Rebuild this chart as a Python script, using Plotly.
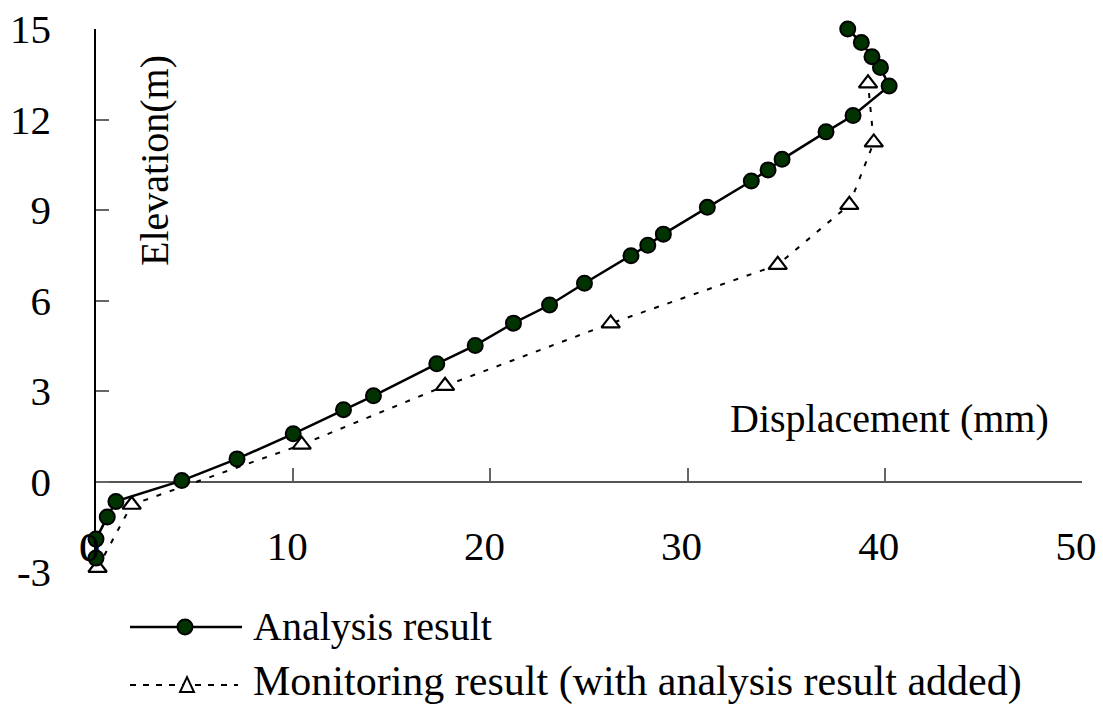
import plotly.graph_objects as go

# Analysis result: horizontal displacement (mm) vs elevation (m)
analysis_disp = [0.0, 0.0, 0.57, 1.01, 4.35, 7.15, 10.0, 12.55, 14.07, 17.28, 19.23,
                 21.17, 23.0, 24.77, 27.13, 27.98, 28.77, 31.0, 33.23, 34.08, 34.79,
                 37.02, 38.39, 40.22, 39.78, 39.35, 38.81, 38.12]
analysis_elev = [-2.54, -1.91, -1.18, -0.66, 0.03, 0.75, 1.58, 2.38, 2.84, 3.9, 4.51,
                 5.25, 5.85, 6.57, 7.48, 7.83, 8.2, 9.09, 9.96, 10.33, 10.68,
                 11.59, 12.13, 13.11, 13.72, 14.08, 14.55, 15.0]

# Monitoring result (with analysis result added)
monitor_disp = [0.08, 1.81, 10.43, 17.7, 26.1, 34.57, 38.2, 39.44, 39.15]
monitor_elev = [-2.86, -0.77, 1.22, 3.17, 5.24, 7.18, 9.17, 11.24, 13.2]

x_ticks = [0, 10, 20, 30, 40, 50]
y_ticks = [-3, 0, 3, 6, 9, 12, 15]

series_names = ["Analysis result", "Monitoring result (with analysis result added)"]

FONT = "Liberation Serif, Times New Roman, serif"
W, H = 1103, 706
ML, MR, MT, MB = 96, 21, 29, 134
PW, PH = W - ML - MR, H - MT - MB


def px(xp):
    return (xp - ML) / PW


def py(yp):
    return (H - MB - yp) / PH


fig = go.Figure()

fig.add_trace(go.Scatter(
    x=monitor_disp, y=monitor_elev, mode="lines+markers", name=series_names[1],
    line=dict(color="black", width=2, dash="5px,9px"),
    marker=dict(symbol="triangle-up", size=16, color="white",
                line=dict(color="black", width=2.2)),
    cliponaxis=False, showlegend=False,
))
fig.add_trace(go.Scatter(
    x=analysis_disp, y=analysis_elev, mode="lines+markers", name=series_names[0],
    line=dict(color="black", width=2.5),
    marker=dict(symbol="circle", size=15, color="#003300",
                line=dict(color="black", width=2)),
    cliponaxis=False, showlegend=False,
))

y_min, y_max = -3, 15
x_axis_pos = (0 - y_min) / (y_max - y_min)

fig.update_xaxes(
    range=[0, 50], tickvals=x_ticks, ticktext=[str(v) for v in x_ticks],
    anchor="free", position=x_axis_pos,
    showline=True, linecolor="#555555", linewidth=1.5,
    ticks="inside", ticklen=13, tickcolor="#666666", tickwidth=1.5,
    ticklabelstandoff=29, ticklabelshift=-6, showgrid=False, zeroline=False,
    tickfont=dict(family=FONT, size=41, color="black"),
    layer="below traces", automargin=False,
)
fig.update_yaxes(
    range=[y_min, y_max], tickvals=y_ticks, ticktext=[str(v) for v in y_ticks],
    showline=True, linecolor="black", linewidth=1.5,
    ticks="inside", ticklen=13, tickcolor="#666666", tickwidth=1.5,
    ticklabelstandoff=35, showgrid=False, zeroline=False,
    tickfont=dict(family=FONT, size=41, color="black"),
    layer="below traces", automargin=False,
)

annotations = [
    dict(text="Elevation(m)", x=px(154), y=py(161), xref="paper", yref="paper",
         textangle=-90, showarrow=False, xanchor="center", yanchor="middle",
         font=dict(family=FONT, size=40, color="black")),
    dict(text="Displacement (mm)", x=px(889), y=py(419), xref="paper", yref="paper",
         showarrow=False, xanchor="center", yanchor="middle",
         font=dict(family=FONT, size=40, color="black")),
    # label for the origin tick, which the crossing axes leave out
    dict(text=str(x_ticks[0]), x=x_ticks[0], xref="x", y=py(547), yref="paper",
         xshift=-7, showarrow=False, xanchor="center", yanchor="middle",
         font=dict(family=FONT, size=41, color="black")),
]

# Hand-drawn legend below the plot
shapes = []
legend_rows = [627, 685]
text_rows = [626, 681]
for name, yrow, fsize in zip(series_names, text_rows, [40, 42]):
    annotations.append(dict(
        text=name, x=px(251), y=py(yrow), xref="paper", yref="paper",
        showarrow=False, xanchor="left", yanchor="middle",
        font=dict(family=FONT, size=fsize, color="black")))

shapes.append(dict(type="line", xref="paper", yref="paper",
                   x0=px(130), x1=px(242), y0=py(legend_rows[0]), y1=py(legend_rows[0]),
                   line=dict(color="black", width=2.5)))
shapes.append(dict(type="circle", xref="paper", yref="paper",
                   xsizemode="pixel", ysizemode="pixel",
                   xanchor=px(185), yanchor=py(legend_rows[0]),
                   x0=-7.5, x1=7.5, y0=-7.5, y1=7.5,
                   fillcolor="#003300", line=dict(color="black", width=2)))
shapes.append(dict(type="line", xref="paper", yref="paper",
                   x0=px(130), x1=px(238), y0=py(legend_rows[1]), y1=py(legend_rows[1]),
                   line=dict(color="black", width=2, dash="6px,7px")))
shapes.append(dict(type="path", xref="paper", yref="paper",
                   xsizemode="pixel", ysizemode="pixel",
                   xanchor=px(187), yanchor=py(legend_rows[1]),
                   path="M-7,-7 L7,-7 L0,8 Z",
                   fillcolor="white", line=dict(color="black", width=2)))

fig.update_layout(
    width=W, height=H,
    margin=dict(l=ML, r=MR, t=MT, b=MB),
    paper_bgcolor="white", plot_bgcolor="white",
    showlegend=False,
    annotations=annotations, shapes=shapes,
)

fig.write_html("out.html")
